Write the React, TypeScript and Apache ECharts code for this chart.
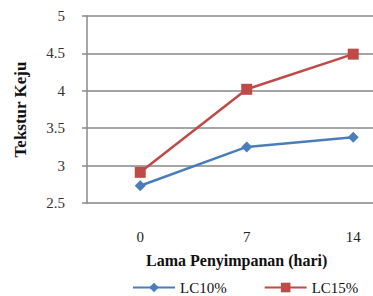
import React, { useEffect, useRef } from "react";
import * as echarts from "echarts";

const days = [0, 7, 14];
const lc10 = [2.73, 3.25, 3.38];
const lc15 = [2.91, 4.02, 4.49];
const yTicks = { min: 2.5, max: 5, interval: 0.5 };

export default function App() {
  const ref = useRef<HTMLDivElement>(null);
  useEffect(() => {
    document.body.style.margin = "0";
    const chart = echarts.init(ref.current!, null, { renderer: "svg" });
    const font = "Liberation Serif";
    chart.setOption({
      animation: false,
      backgroundColor: "#ffffff",
      textStyle: { fontFamily: font },
      grid: { left: 87, top: 16, height: 187, right: 0, containLabel: false },
      legend: {
        left: 127,
        top: 275,
        itemWidth: 42,
        itemHeight: 12,
        itemGap: 37,
        textStyle: { fontFamily: font, fontSize: 15, color: "#111" },
        data: ["LC10%", "LC15%"],
      },
      xAxis: {
        type: "value",
        min: -3.5,
        max: 15.3,
        axisLine: { show: false },
        axisTick: { show: false },
        axisLabel: { customValues: days, margin: 26, fontFamily: font, fontSize: 15, color: "#222" },
        splitLine: { show: false },
      },
      yAxis: {
        type: "value",
        min: yTicks.min,
        max: yTicks.max,
        interval: yTicks.interval,
        name: "Tekstur Keju",
        nameLocation: "middle",
        nameGap: 58,
        nameTextStyle: { fontFamily: font, fontSize: 17, fontWeight: "bold", color: "#111" },
        axisLine: { show: true, onZero: false, lineStyle: { color: "#8a8a8a", width: 1.5 } },
        axisTick: { show: true, inside: false, length: 5, lineStyle: { color: "#8a8a8a", width: 1.5 } },
        axisLabel: { margin: 22, fontFamily: font, fontSize: 15, color: "#333" },
        splitLine: { show: true, lineStyle: { color: "#878787", width: 1.5 } },
      },
      graphic: [
        {
          type: "text",
          left: 146,
          top: 252,
          style: {
            text: "Lama Penyimpanan (hari)",
            fontFamily: font,
            fontSize: 16,
            fontWeight: "bold",
            fill: "#111",
          },
        },
      ],
      series: [
        {
          name: "LC10%",
          type: "line",
          data: days.map((d, i) => [d, lc10[i]]),
          symbol: "diamond",
          symbolSize: 11,
          itemStyle: { color: "#4a7ebb" },
          lineStyle: { color: "#4a7ebb", width: 2.5 },
        },
        {
          name: "LC15%",
          type: "line",
          data: days.map((d, i) => [d, lc15[i]]),
          symbol: "rect",
          symbolSize: 11,
          itemStyle: { color: "#be4b48" },
          lineStyle: { color: "#be4b48", width: 2.5 },
        },
      ],
    });
    return () => chart.dispose();
  }, []);
  return <div ref={ref} style={{ position: "absolute", left: 0, top: 0, width: 373, height: 296 }} />;
}
